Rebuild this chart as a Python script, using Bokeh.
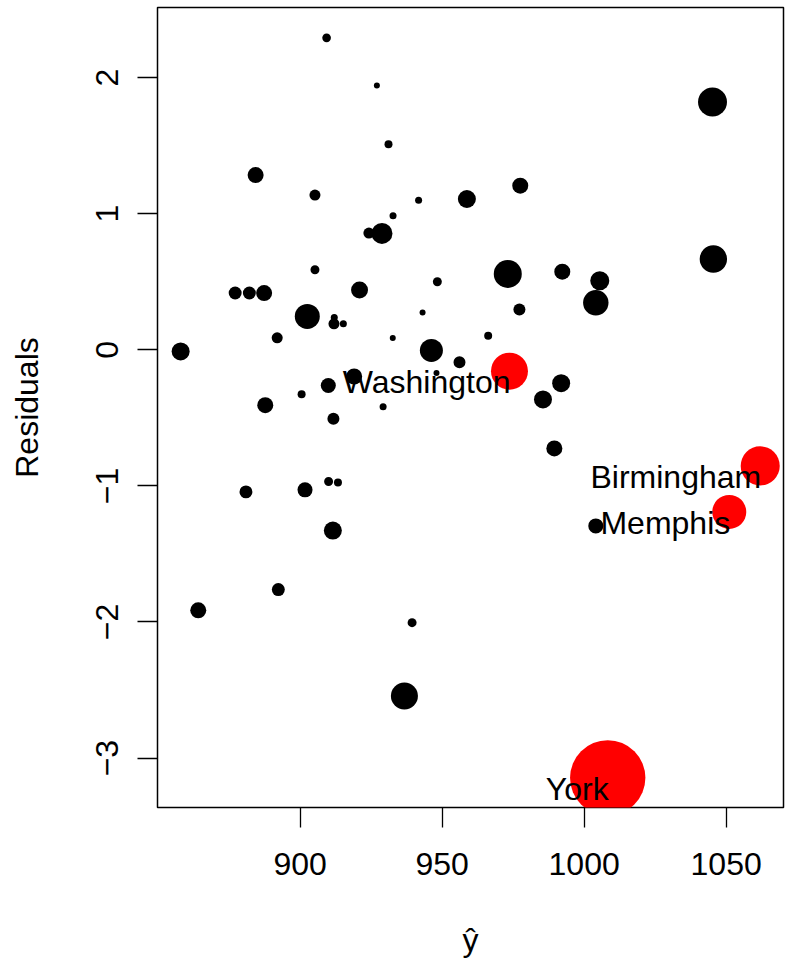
from bokeh.plotting import figure
from bokeh.models import ColumnDataSource, FixedTicker, Range1d
from bokeh.core.properties import value
from bokeh.embed import file_html
from bokeh.resources import INLINE

# Fitted values, residuals and relative point size (cex) for each city
fitted = [909.3, 927.0, 931.1, 884.3, 905.2, 941.7, 958.7, 932.7, 924.2, 928.8,
          905.2, 877.1, 882.1, 887.3, 920.9, 948.3, 902.5, 912.0, 911.9, 915.2,
          943.1, 891.9, 932.6, 857.9, 946.2, 956.1, 919.0, 909.9, 900.5, 929.2,
          887.7, 911.7, 948.0, 1045.2, 977.5, 1045.5, 973.1, 992.3, 1005.5, 1004.1,
          977.2, 966.2, 973.7, 991.9, 985.5, 989.5, 1062.0, 1051.1, 1004.1, 1008.3,
          880.9, 901.7, 910.0, 913.3, 911.5, 892.3, 864.1, 939.4, 936.7]
residuals = [2.292, 1.941, 1.510, 1.284, 1.137, 1.098, 1.108, 0.985, 0.858, 0.855,
             0.588, 0.417, 0.417, 0.417, 0.439, 0.500, 0.245, 0.238, 0.191, 0.191,
             0.274, 0.088, 0.086, -0.012, -0.005, -0.091, -0.196, -0.262, -0.326, -0.419,
             -0.407, -0.507, -0.170, 1.821, 1.206, 0.667, 0.557, 0.574, 0.507, 0.346,
             0.296, 0.103, -0.157, -0.245, -0.365, -0.725, -0.853, -1.191, -1.294, -3.145,
             -1.044, -1.029, -0.968, -0.975, -1.328, -1.762, -1.914, -2.005, -2.544]
cex = [1.08, 0.75, 1.00, 2.00, 1.38, 0.88, 2.25, 0.88, 1.38, 2.62,
       1.12, 1.62, 1.62, 2.00, 2.12, 1.12, 3.12, 0.88, 1.38, 0.88,
       0.75, 1.38, 0.75, 2.25, 2.88, 1.50, 2.00, 1.88, 1.00, 0.88,
       2.00, 1.50, 0.75, 3.62, 2.00, 3.42, 3.50, 2.00, 2.38, 3.18,
       1.50, 1.00, 4.62, 2.25, 2.25, 2.00, 4.88, 4.25, 1.88, 9.42,
       1.62, 1.88, 1.12, 1.00, 2.25, 1.62, 2.00, 1.12, 3.38]

# Influential cities, drawn in red and labelled
flagged = {42: "Washington", 46: "Birmingham", 47: "Memphis", 49: "York"}

x_ticks = [900, 950, 1000, 1050]
y_ticks = [-3, -2, -1, 0, 1, 2]

FONT = "Liberation Sans"
FONT_SIZE = "32px"
BASE = 8  # pixel diameter for cex = 1

colors = ["red" if i in flagged else "black" for i in range(len(fitted))]
sizes = [c * BASE for c in cex]
pts = ColumnDataSource(dict(x=fitted, y=residuals, size=sizes, color=colors))

lab_idx = sorted(flagged)
labels = ColumnDataSource(dict(
    x=[fitted[i] for i in lab_idx],
    y=[residuals[i] for i in lab_idx],
    text=[flagged[i] for i in lab_idx],
))

p = figure(width=792, height=963, output_backend="svg", toolbar_location=None,
           x_range=Range1d(849.75, 1070.2), y_range=Range1d(-3.363, 2.515),
           min_border_left=157, min_border_right=9, min_border_top=7,
           min_border_bottom=156)

p.background_fill_color = "white"
p.border_fill_color = "white"
p.outline_line_color = "black"
p.outline_line_width = 1.5
p.xgrid.visible = False
p.ygrid.visible = False

p.scatter("x", "y", size="size", color="color", line_color=None, source=pts)

# Labels hang below-left of their points
p.text("x", "y", text="text", source=labels, text_align="right",
       text_baseline="alphabetic", y_offset=11, x_offset=1, text_color="black",
       text_font=value(FONT), text_font_size=FONT_SIZE)

for ax in (p.xaxis[0], p.yaxis[0]):
    ax.axis_line_color = None
    ax.major_tick_out = 20
    ax.major_tick_in = 0
    ax.minor_tick_out = 0
    ax.minor_tick_in = 0
    ax.major_tick_line_width = 1.3
    ax.major_tick_line_color = "black"
    ax.major_label_text_font = FONT
    ax.major_label_text_font_size = FONT_SIZE
    ax.major_label_text_color = "black"
    ax.axis_label_text_font = FONT
    ax.axis_label_text_font_size = FONT_SIZE
    ax.axis_label_text_font_style = "normal"
    ax.axis_label_text_color = "black"

p.xaxis.ticker = FixedTicker(ticks=x_ticks)
p.yaxis.ticker = FixedTicker(ticks=y_ticks)
p.xaxis.major_label_overrides = {t: str(t) for t in x_ticks}
p.yaxis.major_label_overrides = {t: ("\u2212" + str(-t) if t < 0 else str(t)) for t in y_ticks}
p.yaxis.major_label_orientation = "vertical"
p.xaxis.major_label_standoff = 25
p.yaxis.major_label_standoff = 19
p.xaxis.axis_label = "\u0177"
p.yaxis.axis_label = "Residuals"
p.xaxis.axis_label_standoff = 44
p.yaxis.axis_label_standoff = 49

open("out.html", "w").write(file_html(p, INLINE))
